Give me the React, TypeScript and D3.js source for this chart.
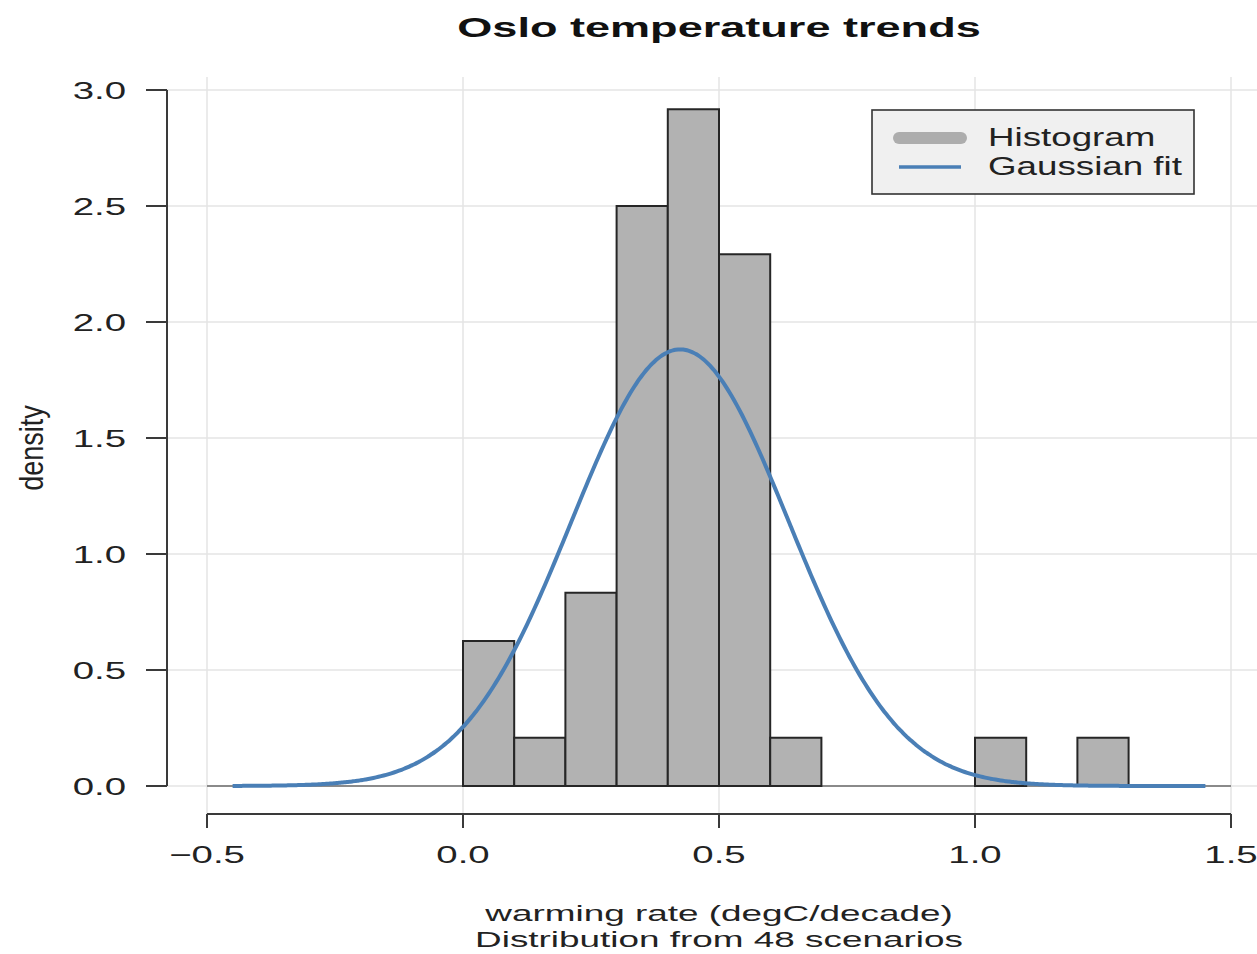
import React from "react";
import * as d3 from "d3";

const TITLE = "Oslo temperature trends";
const X_LABEL_1 = "warming rate (degC/decade)";
const X_LABEL_2 = "Distribution from 48 scenarios";
const Y_LABEL = "density";

const binStarts = [0.0, 0.1, 0.2, 0.3, 0.4, 0.5, 0.6, 1.0, 1.2];
const binDensity = [0.625, 0.208, 0.833, 2.5, 2.917, 2.292, 0.208, 0.208, 0.208];
const BIN_WIDTH = 0.1;

const FIT_MEAN = 0.424;
const FIT_SD = 0.212;
const FIT_RANGE = [-0.45, 1.45];

const xTicks = [-0.5, 0.0, 0.5, 1.0, 1.5];
const yTicks = [0.0, 0.5, 1.0, 1.5, 2.0, 2.5, 3.0];

const legendItems = ["Histogram", "Gaussian fit"];

const FONT = "'Liberation Sans', Arial, Helvetica, sans-serif";

function T(props: any) {
  const { x, y, size, sx = 1.6, anchor = "start", weight = "normal", children, fill = "#222" } = props;
  return (
    <text
      transform={`translate(${x},${y}) scale(${sx},1)`}
      fontSize={size}
      fontFamily={FONT}
      fontWeight={weight}
      textAnchor={anchor}
      fill={fill}
    >
      {children}
    </text>
  );
}

export default function App() {
  const W = 1257, H = 954;
  const x = d3.scaleLinear().domain([-0.5, 1.5]).range([207, 1231]);
  const y = d3.scaleLinear().domain([0, 3]).range([786, 90]);
  const axisX = 167;
  const axisY = 814;
  const plotTop = 77;

  const fmt = d3.format(".1f");
  const gauss = (v: number) =>
    Math.exp(-((v - FIT_MEAN) ** 2) / (2 * FIT_SD * FIT_SD)) / (FIT_SD * Math.sqrt(2 * Math.PI));
  const curvePts = d3.range(FIT_RANGE[0], FIT_RANGE[1] + 1e-9, 0.005).map((v) => [v, gauss(v)] as [number, number]);
  const line = d3.line<[number, number]>().x((d) => x(d[0])).y((d) => y(d[1])).curve(d3.curveMonotoneX);

  const grid = "#e4e4e4";
  const axisColor = "#3a3a3a";
  const blue = "#4a7fb6";

  return (
    <div style={{ position: "absolute", left: 0, top: 0 }}>
      <svg width={W} height={H} style={{ display: "block", background: "#fff" }}>
        {/* gridlines */}
        {yTicks.map((t) => (
          <line key={"gy" + t} x1={axisX} x2={W} y1={y(t)} y2={y(t)} stroke={grid} strokeWidth={1.5} />
        ))}
        {xTicks.map((t) => (
          <line key={"gx" + t} x1={x(t)} x2={x(t)} y1={plotTop} y2={axisY} stroke={grid} strokeWidth={1.5} />
        ))}
        {/* zero baseline */}
        <line x1={x(-0.5)} x2={x(1.5)} y1={y(0)} y2={y(0)} stroke="#8a8a8a" strokeWidth={2} />
        {/* bars */}
        {binStarts.map((b, i) => (
          <rect
            key={"b" + i}
            x={x(b)}
            y={y(binDensity[i])}
            width={x(b + BIN_WIDTH) - x(b)}
            height={y(0) - y(binDensity[i])}
            fill="#b2b2b2"
            stroke="#262626"
            strokeWidth={2}
          />
        ))}
        {/* gaussian fit */}
        <path d={line(curvePts) || ""} fill="none" stroke={blue} strokeWidth={4} />

        {/* y axis */}
        <line x1={axisX} x2={axisX} y1={y(3)} y2={y(0)} stroke={axisColor} strokeWidth={2} />
        {yTicks.map((t) => (
          <g key={"yt" + t}>
            <line x1={axisX - 21} x2={axisX} y1={y(t)} y2={y(t)} stroke={axisColor} strokeWidth={2} />
            <T x={126} y={y(t) + 8.5} size={24} sx={1.6} anchor="end">{fmt(t)}</T>
          </g>
        ))}
        {/* x axis */}
        <line x1={x(-0.5)} x2={x(1.5)} y1={axisY} y2={axisY} stroke={axisColor} strokeWidth={2} />
        {xTicks.map((t) => (
          <g key={"xt" + t}>
            <line x1={x(t)} x2={x(t)} y1={axisY} y2={axisY + 14} stroke={axisColor} strokeWidth={2} />
            <T x={x(t)} y={863} size={24} sx={1.6} anchor="middle">{fmt(t)}</T>
          </g>
        ))}

        {/* axis labels */}
        <T x={719} y={921} size={22.5} sx={1.64} anchor="middle">{X_LABEL_1}</T>
        <T x={719} y={947} size={22.5} sx={1.64} anchor="middle">{X_LABEL_2}</T>
        <text
          transform={`translate(43,448) rotate(-90) scale(1,1.25)`}
          fontSize={27}
          fontFamily={FONT}
          textAnchor="middle"
          fill="#222"
        >
          {Y_LABEL}
        </text>

        {/* title */}
        <T x={719} y={37} size={28} sx={1.61} anchor="middle" weight="bold" fill="#111">{TITLE}</T>

        {/* legend */}
        <rect x={872} y={110} width={322} height={84} fill="#f0f0f0" stroke="#333" strokeWidth={1.6} />
        <line x1={899} x2={961} y1={138} y2={138} stroke="#adadad" strokeWidth={12} strokeLinecap="round" />
        <line x1={899} x2={961} y1={167} y2={167} stroke={blue} strokeWidth={3.5} />
        <T x={988} y={146} size={25} sx={1.47} fill="#222">{legendItems[0]}</T>
        <T x={988} y={175} size={25} sx={1.47} fill="#222">{legendItems[1]}</T>
      </svg>
    </div>
  );
}
